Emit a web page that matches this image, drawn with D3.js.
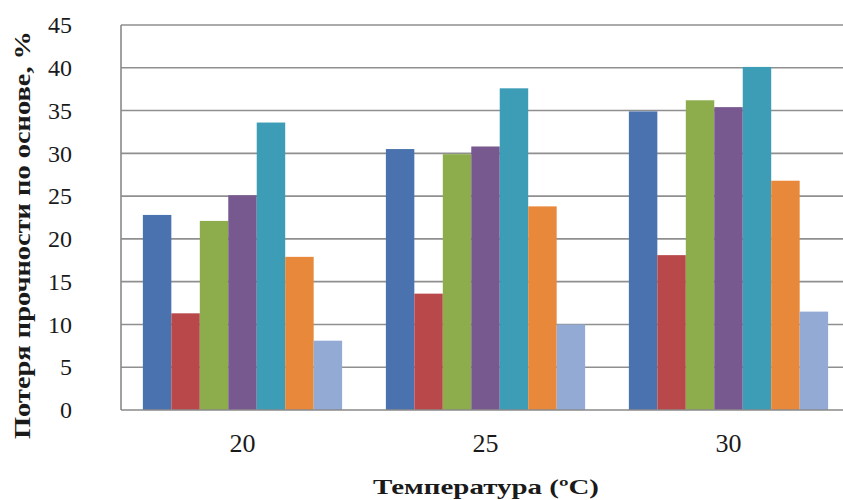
<!DOCTYPE html>
<html>
<head>
<meta charset="utf-8">
<script src="https://cdn.jsdelivr.net/npm/d3@7"></script>
<style>
  html, body { margin: 0; padding: 0; background: #fff; }
  svg { display: block; }
  text { font-family: "Liberation Serif", "Times New Roman", serif; fill: #1a1a1a; }
</style>
</head>
<body>
<svg id="chart" width="843" height="500"></svg>
<script>
const categories = ["20", "25", "30"];
const seriesNames = ["s1", "s2", "s3", "s4", "s5", "s6", "s7"];
const s1 = [22.8, 30.5, 34.9];
const s2 = [11.3, 13.6, 18.1];
const s3 = [22.1, 29.9, 36.2];
const s4 = [25.1, 30.8, 35.4];
const s5 = [33.6, 37.6, 40.1];
const s6 = [17.9, 23.8, 26.8];
const s7 = [8.1, 10.0, 11.5];
const seriesValues = [s1, s2, s3, s4, s5, s6, s7];
const colors = ["#4A72AE", "#B9484A", "#8DAD4D", "#77588F", "#3E9DB6", "#E8883A", "#93AAD5"];
const yTicks = [0, 5, 10, 15, 20, 25, 30, 35, 40, 45];
const yTitle = "Потеря прочности по основе, %";
const xTitle = "Температура (ºС)";

const svg = d3.select("#chart");
const x0 = d3.scaleBand().domain(categories).range([121, 850]).paddingInner(0.18).paddingOuter(0.09);
const x1 = d3.scaleBand().domain(d3.range(seriesNames.length)).range([0, x0.bandwidth()]).padding(0);
const y = d3.scaleLinear().domain([0, 45]).range([410, 25]);

// gridlines
svg.append("g").selectAll("line").data(yTicks.filter(d => d > 0)).join("line")
  .attr("x1", 121).attr("x2", 850)
  .attr("y1", d => y(d)).attr("y2", d => y(d))
  .attr("stroke", "#8f8f8f").attr("stroke-width", 1.6);

// bars
const groups = svg.append("g").selectAll("g").data(categories).join("g")
  .attr("transform", c => `translate(${x0(c)},0)`);
groups.selectAll("rect").data((c, ci) => seriesValues.map((s, si) => ({ si, v: s[ci] }))).join("rect")
  .attr("x", d => x1(d.si))
  .attr("width", x1.bandwidth())
  .attr("y", d => y(d.v))
  .attr("height", d => y(0) - y(d.v))
  .attr("fill", d => colors[d.si]);

// axes frame
svg.append("line").attr("x1", 121).attr("x2", 121).attr("y1", y(45)).attr("y2", y(0))
  .attr("stroke", "#8a8a8a").attr("stroke-width", 1.6);
svg.append("line").attr("x1", 121).attr("x2", 850).attr("y1", y(0)).attr("y2", y(0))
  .attr("stroke", "#8a8a8a").attr("stroke-width", 1.6);

// y axis labels
const yAxis = d3.axisLeft(y).tickValues(yTicks).tickSize(0).tickPadding(0);
const ya = svg.append("g").attr("transform", "translate(72,0)").call(yAxis);
ya.select(".domain").remove();
ya.selectAll("text").attr("font-size", 24).attr("font-family", "Liberation Serif, serif").attr("fill", "#1a1a1a");

// x axis labels
const xAxis = d3.axisBottom(x0).tickSize(0).tickPadding(0);
const xa = svg.append("g").attr("transform", "translate(0,434)").call(xAxis);
xa.select(".domain").remove();
xa.selectAll("text").attr("font-size", 26).attr("font-family", "Liberation Serif, serif").attr("fill", "#1a1a1a").attr("dy", "0.71em");

// titles
svg.append("text")
  .attr("transform", "translate(30,235) rotate(-90)")
  .attr("text-anchor", "middle")
  .attr("font-size", 23).attr("font-weight", "bold")
  .attr("textLength", 408).attr("lengthAdjust", "spacingAndGlyphs")
  .text(yTitle);

svg.append("text")
  .attr("x", 486).attr("y", 494)
  .attr("text-anchor", "middle")
  .attr("font-size", 22).attr("font-weight", "bold")
  .attr("textLength", 226).attr("lengthAdjust", "spacingAndGlyphs")
  .text(xTitle);
</script>
</body>
</html>
